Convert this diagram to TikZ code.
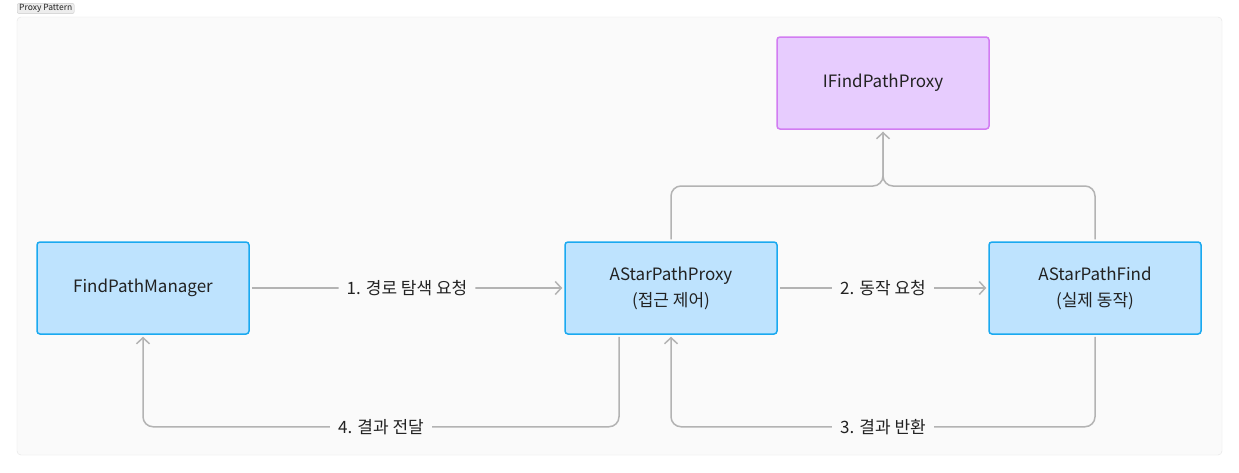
\documentclass[tikz,border=0pt]{standalone}
\usepackage{fontspec}
\setmainfont{Noto Sans CJK KR}
\usetikzlibrary{arrows.meta}
\definecolor{fillblue}{HTML}{BEE3FE}
\definecolor{lineblue}{HTML}{1AA9F0}
\definecolor{fillpurple}{HTML}{E7CCFE}
\definecolor{linepurple}{HTML}{D27CF2}
\definecolor{linkgray}{HTML}{B3B3B3}
\definecolor{paper}{HTML}{FAFAFA}
\definecolor{ink}{HTML}{222222}

\begin{document}
\begin{tikzpicture}[x=1pt,y=-1pt,
  cls/.style={draw=lineblue, fill=fillblue, line width=1.5pt, rounded corners=3pt,
    minimum width=212pt, minimum height=92pt, align=center, text=ink,
    font=\fontsize{17}{26}\selectfont},
  iface/.style={cls, draw=linepurple, fill=fillpurple},
  link/.style={draw=linkgray, line width=1.5pt, rounded corners=10pt,
    shorten <=2pt, shorten >=2pt},
  tip/.style={-{Straight Barb[length=6pt,width=13pt]}},
  lbl/.style={fill=paper, inner xsep=8pt, text=ink, font=\fontsize{17}{20}\selectfont}]
  \useasboundingbox (0,0) rectangle (1239,472);
  % Frame
  \fill[white] (0,0) rectangle (1239,472);
  \draw[draw=black!10, fill=paper, rounded corners=4pt] (17,17) rectangle (1222,455);
  \node[draw=black!20, fill=black!7, rounded corners=2pt, inner xsep=2pt, inner ysep=1pt,
    anchor=west, text=ink, font=\fontsize{8.5}{9}\selectfont] (tag) at (17,8.5) {Proxy Pattern};
  % Boxes
  \node[iface] (iface) at (883,83) {IFindPathProxy};
  \node[cls] (manager) at (143,288) {FindPathManager};
  \node[cls] (proxy) at (671,288) {AStarPathProxy\\(접근 제어)};
  \node[cls] (find) at (1095,288) {AStarPathFind\\(실제 동작)};
  % Realization
  \coordinate (join) at (883,186);
  \draw[link] (find.north) |- (join) -- (iface.south);
  \draw[link,tip] (proxy.north) |- (join) -- (iface.south);
  % Requests
  \draw[link,tip] (manager) -- node[lbl] {1. 경로 탐색 요청} (proxy);
  \draw[link,tip] (proxy) -- node[lbl] {2. 동작 요청} (find);
  % Results
  \draw[link,tip] (find.south) |- node[lbl,pos=0.75] {3. 결과 반환}
    ([yshift=-92pt]proxy.south) -- (proxy.south);
  \draw[link,tip] ([xshift=-52pt]proxy.south) |- node[lbl,pos=0.75] {4. 결과 전달}
    ([yshift=-92pt]manager.south) -- (manager.south);
\end{tikzpicture}
\end{document}
